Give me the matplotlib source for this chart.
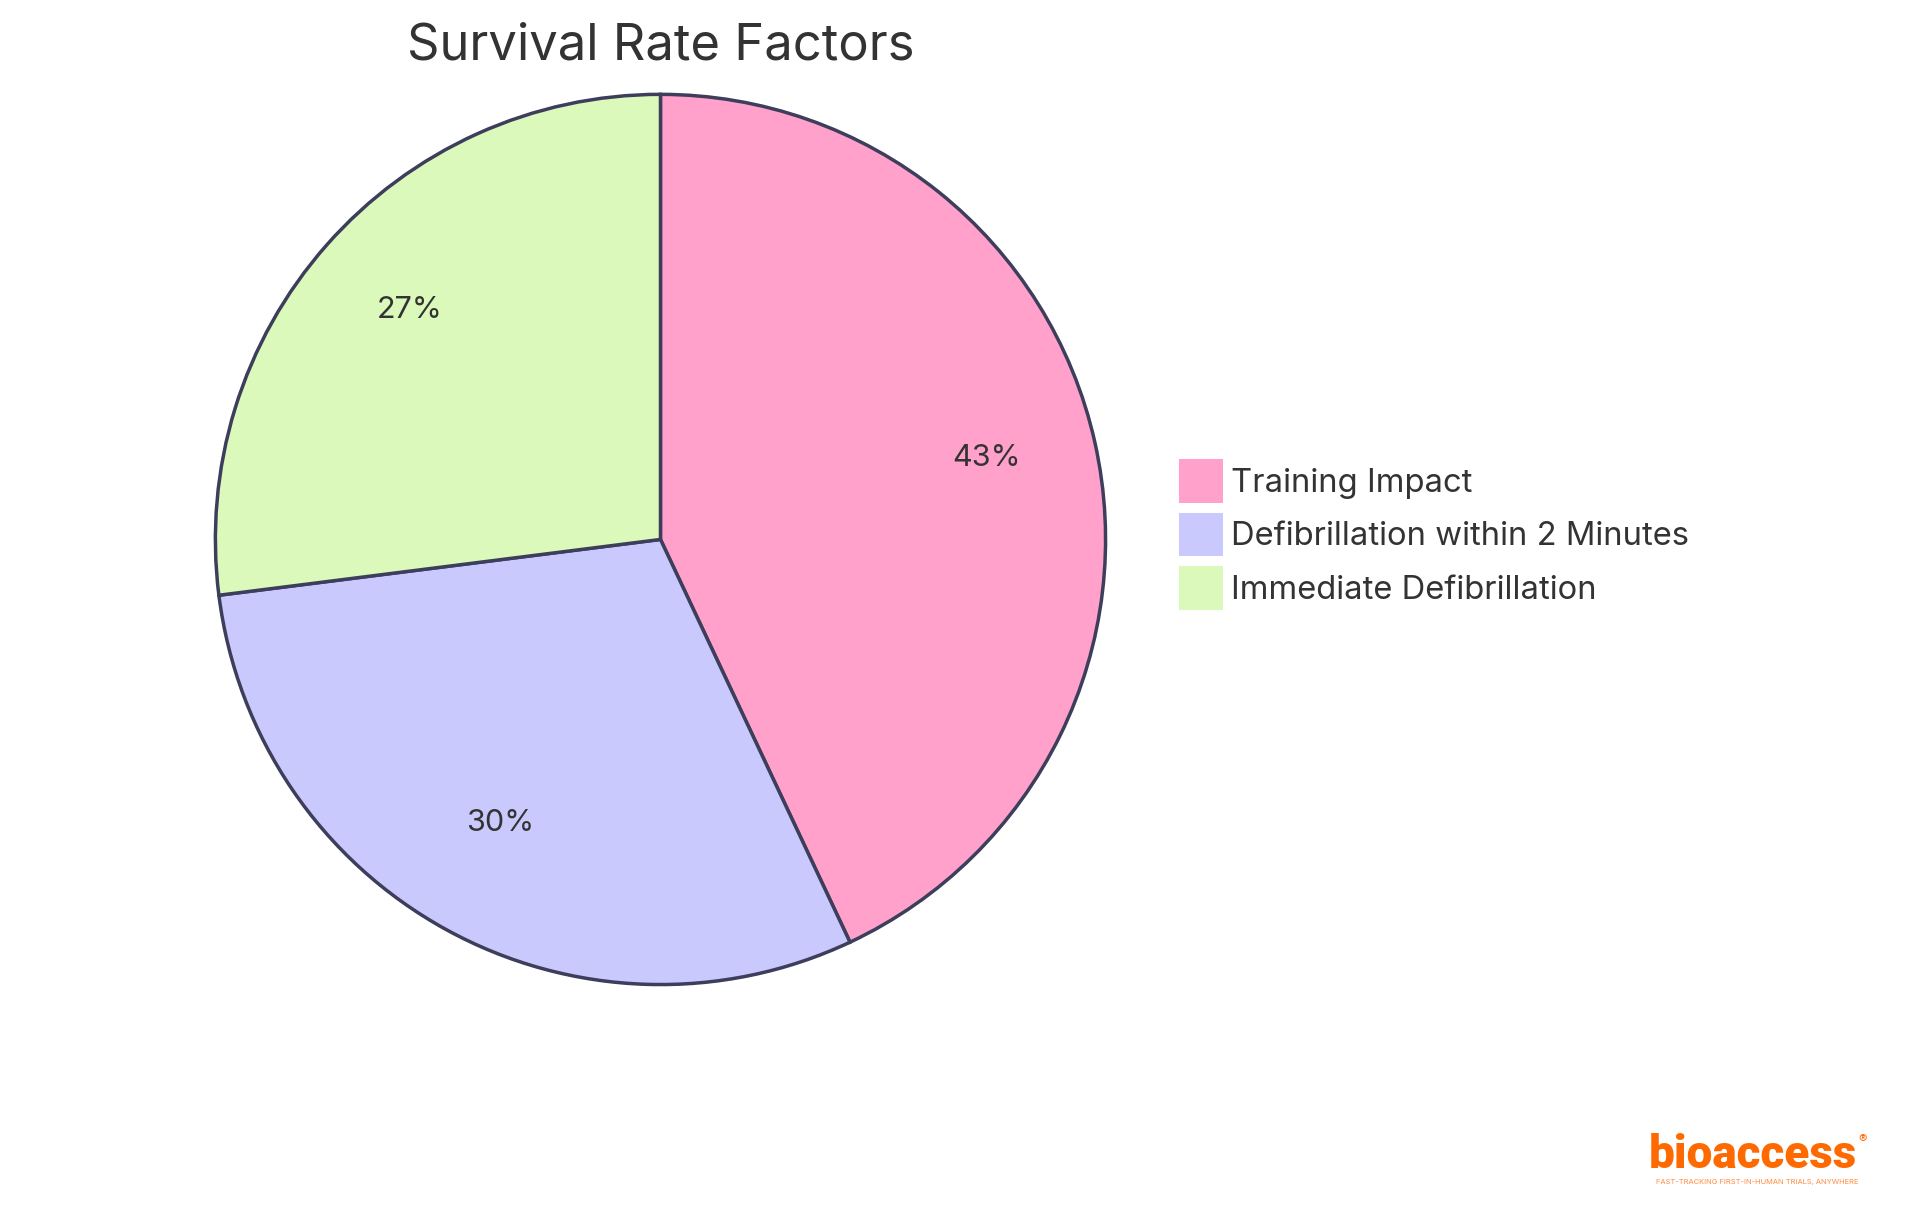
import matplotlib
matplotlib.use("Agg")
import matplotlib.pyplot as plt
from matplotlib.patches import Patch

# data
labels = ["Training Impact", "Defibrillation within 2 Minutes", "Immediate Defibrillation"]
values = [43, 30, 27]
colors = ["#FFA1CB", "#C9C9FD", "#DCF9BC"]

plt.rcParams["font.family"] = ["Inter", "DejaVu Sans"]
text_color = "#333333"
edge_color = "#3D3D5C"

fig = plt.figure(figsize=(19.2, 12.15), dpi=100)

# pie axes (square)
cx, cy = 0.344, 0.556
ax_h = 0.740
ax_w = ax_h * 12.15 / 19.2
ax = fig.add_axes([cx - ax_w / 2, cy - ax_h / 2, ax_w, ax_h])
wedges, texts, autotexts = ax.pie(
    values, colors=colors, startangle=90, counterclock=False,
    autopct="%1.0f%%", pctdistance=0.75,
    wedgeprops=dict(edgecolor=edge_color, linewidth=2.5),
    textprops=dict(fontsize=22, color=text_color))
# nudge percent labels up slightly
for t in autotexts:
    x, y = t.get_position()
    t.set_position((x, y + 0.02))
ax.set_xlim(-1.01, 1.01)
ax.set_ylim(-1.01, 1.01)
ax.set_aspect("equal")
ax.axis("off")

# title
fig.text(cx, 0.962, "Survival Rate Factors", ha="center", va="center",
         fontsize=36.5, color=text_color)

# legend
handles = [Patch(facecolor=c, edgecolor="none") for c in colors]
fig.legend(handles, labels, loc="upper left", bbox_to_anchor=(0.614, 0.622),
           frameon=False, fontsize=23.6, handlelength=1.35, handleheight=1.68,
           handletextpad=0.25, labelspacing=0.29, borderpad=0, borderaxespad=0,
           labelcolor=text_color)

# logo
fig.text(0.967, 0.039, "bioaccess", ha="right", va="baseline",
         fontsize=33, fontweight="black", color="#FF6A00", family="Roboto")
fig.text(0.970, 0.062, "®", ha="center", va="center", fontsize=9, color="#FF6A00")
fig.text(0.915, 0.027, "FAST-TRACKING FIRST-IN-HUMAN TRIALS, ANYWHERE",
         ha="center", va="center", fontsize=5.4, color="#FF8A3D")

fig.savefig("out.png", dpi=100, facecolor="white")
